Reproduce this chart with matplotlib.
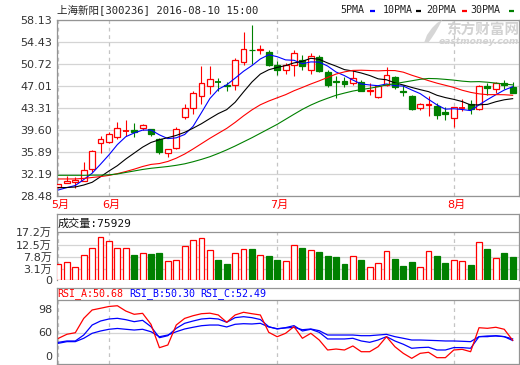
import matplotlib
matplotlib.use('Agg')
import matplotlib.pyplot as plt
import matplotlib.transforms as mtransforms
from matplotlib.patches import Rectangle, Polygon
from matplotlib.lines import Line2D
import numpy as np

plt.rcParams['font.family'] = ['DejaVu Sans', 'Noto Sans CJK SC']

# ---------------- data ----------------
title = '上海新阳[300236] 2016-08-10 15:00'
month_idx = [0, 6, 26, 47]
month_labels = ['5月', '6月', '7月', '8月']

opens = [30.10, 30.80, 30.90, 31.10, 33.10, 37.50, 37.70, 38.40, 39.40, 39.65,
         39.95, 39.80, 38.10, 35.70, 36.60, 41.90, 43.30, 45.40, 47.05, 47.85,
         47.20, 47.20, 51.05, 53.20, 53.10, 52.75, 50.60, 49.80, 50.60, 51.45,
         49.75, 52.00, 49.45, 47.90, 47.90, 47.60, 47.80, 46.30, 45.25, 47.20,
         48.60, 46.20, 45.40, 43.30, 43.85, 43.70, 42.60, 41.60, 43.20, 44.00,
         43.15, 47.00, 46.50, 47.50, 46.95]
highs = [30.60, 31.90, 31.70, 34.30, 36.20, 38.65, 39.35, 40.95, 41.30, 40.80,
         40.70, 39.90, 38.35, 36.50, 40.10, 44.00, 46.20, 50.50, 50.50, 48.35,
         47.70, 51.80, 56.10, 57.30, 54.00, 53.10, 51.20, 51.00, 53.10, 52.30,
         52.65, 52.30, 49.80, 48.75, 48.50, 49.75, 48.00, 47.60, 47.30, 50.30,
         48.80, 47.30, 45.60, 44.20, 45.30, 44.15, 43.50, 43.60, 44.80, 44.70,
         47.30, 47.62, 47.80, 48.10, 47.70]
lows = [30.00, 30.70, 29.85, 31.00, 32.60, 35.70, 37.50, 38.10, 38.60, 38.50,
        39.60, 38.60, 35.55, 35.05, 36.40, 41.45, 42.30, 44.00, 45.70, 46.20,
        46.20, 46.40, 50.60, 50.70, 52.50, 50.50, 48.90, 49.00, 48.75, 49.75,
        49.10, 49.50, 46.90, 45.00, 46.90, 47.20, 46.20, 45.50, 45.10, 47.00,
        46.50, 45.30, 43.00, 43.10, 42.00, 41.45, 41.40, 40.20, 42.90, 42.30,
        43.00, 45.55, 45.80, 46.60, 45.90]
closes = [30.50, 31.05, 31.30, 32.90, 36.10, 38.10, 38.90, 39.94, 39.55, 39.25,
          40.50, 38.95, 35.90, 36.40, 39.90, 43.30, 45.80, 47.50, 48.25, 47.70,
          47.05, 51.40, 53.30, 53.05, 53.30, 50.60, 49.75, 50.60, 52.70, 50.45,
          52.10, 49.60, 47.25, 47.70, 47.40, 48.35, 46.30, 46.45, 47.05, 48.90,
          46.85, 46.00, 43.15, 44.00, 44.05, 42.20, 42.40, 43.50, 43.35, 43.15,
          47.05, 46.80, 47.60, 47.30, 45.95]

ma5 = [29.55, 29.95, 30.30, 31.30, 32.37, 33.89, 35.46, 37.19, 38.52, 39.15,
       39.63, 39.64, 38.83, 38.20, 38.33, 38.89, 40.26, 42.58, 44.95, 46.51,
       47.26, 48.38, 49.54, 50.50, 51.62, 52.33, 52.00, 51.46, 51.39, 50.82,
       51.12, 51.09, 50.42, 49.42, 48.81, 48.06, 47.40, 47.24, 47.11, 47.41,
       47.11, 47.05, 46.39, 45.78, 44.81, 43.88, 43.16, 43.23, 43.10, 42.92,
       43.89, 44.77, 45.59, 46.38, 46.94]
ma10 = [29.93, 29.96, 30.05, 30.38, 30.84, 31.78, 32.74, 33.64, 34.76, 35.76,
        36.76, 37.55, 38.01, 38.36, 38.74, 39.26, 39.95, 40.71, 41.58, 42.42,
        43.08, 44.32, 46.06, 47.73, 49.07, 49.80, 50.19, 50.50, 50.95, 51.22,
        51.73, 51.55, 50.94, 50.41, 49.82, 49.59, 49.25, 48.83, 48.27, 48.11,
        47.59, 47.23, 46.82, 46.45, 46.11, 45.50, 45.11, 44.81, 44.44, 43.87,
        43.89, 43.97, 44.41, 44.74, 44.93]
ma20 = [31.40, 31.40, 31.40, 31.50, 31.65, 31.80, 32.00, 32.30, 32.65, 33.05,
        33.50, 33.85, 34.00, 34.35, 34.90, 35.60, 36.45, 37.35, 38.25, 39.09,
        39.92, 40.93, 42.03, 43.04, 43.90, 44.53, 45.07, 45.60, 46.26, 46.82,
        47.40, 47.93, 48.50, 49.07, 49.44, 49.69, 49.72, 49.67, 49.61, 49.67,
        49.66, 49.39, 48.88, 48.43, 47.96, 47.54, 47.18, 46.82, 46.35, 45.99,
        45.74, 45.60, 45.61, 45.59, 45.50]
ma30 = [32.02, 32.02, 32.02, 32.02, 32.05, 32.05, 32.10, 32.24, 32.50, 32.75,
        33.00, 33.20, 33.35, 33.50, 33.70, 33.95, 34.30, 34.70, 35.15, 35.70,
        36.30, 36.95, 37.65, 38.35, 39.10, 39.85, 40.60, 41.45, 42.30, 43.13,
        43.85, 44.47, 45.00, 45.50, 45.87, 46.21, 46.46, 46.68, 46.93, 47.25,
        47.46, 47.70, 47.94, 48.19, 48.33, 48.29, 48.18, 48.05, 47.88, 47.77,
        47.80, 47.70, 47.55, 47.40, 47.25]

# volume in units of 万 (10k)
volumes = [5.02, 5.79, 3.76, 8.37, 11.06, 15.28, 13.74, 11.06, 11.06, 8.48,
           9.25, 8.87, 9.36, 6.06, 6.45, 11.94, 14.13, 14.90, 10.29, 6.56,
           5.02, 9.25, 10.67, 10.79, 8.48, 8.10, 6.56, 6.06, 12.32, 11.17,
           10.40, 9.63, 8.10, 7.71, 5.02, 8.10, 6.56, 3.76, 5.29, 10.02,
           6.94, 4.26, 5.79, 3.76, 10.02, 8.10, 5.41, 6.45, 6.06, 4.64,
           13.36, 10.79, 7.21, 9.25, 7.59]
last_volume = 75929

rsi_a = [53.3, 58.7, 60.8, 80.0, 91.3, 93.6, 96.0, 97.0, 89.9, 85.5,
         86.8, 72.0, 40.7, 44.3, 71.1, 80.0, 83.6, 86.3, 87.0, 84.6,
         74.8, 84.6, 88.2, 86.3, 84.6, 61.3, 55.4, 60.0, 68.9, 53.3,
         60.0, 51.0, 37.6, 38.9, 37.6, 43.0, 35.3, 35.3, 42.0, 55.4,
         42.0, 33.1, 26.4, 33.1, 34.5, 27.3, 27.3, 37.6, 38.5, 35.3,
         67.5, 66.7, 68.1, 65.4, 50.68]
rsi_b = [47.9, 49.7, 49.7, 57.7, 71.1, 76.5, 79.2, 80.1, 78.3, 75.6,
         77.4, 68.9, 54.1, 56.8, 66.7, 73.4, 76.5, 79.2, 80.1, 79.2,
         74.8, 81.0, 82.3, 81.0, 78.5, 68.9, 65.8, 67.6, 70.3, 63.1,
         65.4, 61.3, 52.4, 52.4, 52.4, 53.3, 49.7, 47.9, 51.0, 55.5,
         49.7, 45.3, 39.9, 40.8, 41.3, 37.6, 37.6, 40.8, 40.8, 39.9,
         55.5, 55.5, 56.8, 55.5, 50.30]
rsi_c = [46.6, 48.8, 48.8, 53.3, 60.0, 63.1, 65.4, 66.5, 65.4, 64.4,
         65.4, 62.1, 55.4, 57.7, 62.1, 65.8, 68.1, 70.2, 71.1, 71.1,
         68.5, 72.1, 72.9, 72.5, 73.4, 68.5, 66.2, 67.2, 68.0, 64.8,
         65.8, 63.5, 57.7, 57.7, 57.7, 57.7, 56.8, 56.8, 57.7, 58.6,
         55.5, 53.3, 51.0, 51.0, 50.6, 50.2, 49.7, 49.7, 49.3, 48.8,
         55.5, 56.4, 56.4, 55.5, 52.49]

price_ticks = [58.13, 54.43, 50.72, 47.01, 43.31, 39.60, 35.89, 32.19, 28.48]
vol_ticks = [-1.2, 3.1, 7.8, 12.5, 17.2]
vol_ticklabels = ['0', '3.1万', '7.8万', '12.5万', '17.2万']
rsi_ticks = [98, 60, 22]
rsi_ticklabels = ['98', '60', '0']

# ---------------- style ----------------
RED = '#ff0000'
GREEN = '#008000'
BLUE = '#0000ff'
BLACK = '#000000'
BORDER = '#949494'
GRID = '#d4d4d4'
DASH = '#c4c4c4'
TXT = '#333333'
MONO = ['DejaVu Sans Mono', 'Noto Sans CJK SC']

W, H = 520, 365
fig = plt.figure(figsize=(W / 100, H / 100), dpi=100)
fig.patch.set_facecolor('white')


def rect(l, t, r, b):
    return [l / W, 1 - b / H, (r - l) / W, (b - t) / H]


def fy(y):
    return 1 - y / H


n = len(closes)
x = np.arange(n)
XLIM = (-0.214, 54.79)
bw = 0.7

ax = fig.add_axes(rect(56.7, 20.3, 519.3, 196.3))
axv = fig.add_axes(rect(56.7, 214.3, 519.3, 280.2))
axr = fig.add_axes(rect(56.7, 287.7, 519.3, 364.3))

for a in (ax, axv, axr):
    a.set_xlim(*XLIM)
    a.set_xticks([])
    for s in a.spines.values():
        s.set_color(BORDER)
        s.set_linewidth(0.9)
    a.tick_params(axis='y', length=0, pad=3.3, labelsize=8, labelcolor=TXT)
    a.set_facecolor('white')

# watermark logo (behind the plot contents)
fig.text(519 / W, fy(30), '东方财富网', family=['Noto Sans CJK SC'], fontsize=10.5,
         fontweight='bold', color='#d2d2d2', ha='right', va='center', zorder=0.5)
fig.text(519 / W, fy(41.5), 'eastmoney.com', family=['DejaVu Sans'], fontsize=6.6,
         fontweight='bold', style='italic', color='#d2d2d2', ha='right', va='center', zorder=0.5)
logo_px = [(424, 43), (427, 35), (432, 28), (437, 23), (442, 20), (439, 26),
           (435, 33), (431, 39), (428, 43)]
fig.add_artist(Polygon([(px / W, fy(py)) for px, py in logo_px], closed=True,
                       facecolor='#d6d6d6', edgecolor='none', zorder=0.5))
ax.patch.set_alpha(0)

# ---------------- price panel ----------------
ax.set_ylim(28.48, 58.13)
ax.set_yticks(price_ticks)
ax.set_yticklabels(['%.2f' % t for t in price_ticks])
for t in price_ticks:
    ax.axhline(t, color=GRID, lw=0.9, zorder=0)
for m in month_idx:
    ax.axvline(m, color=DASH, lw=0.9, ls=(0, (3, 3)), zorder=0)

for i in range(n):
    o, h, l, c = opens[i], highs[i], lows[i], closes[i]
    top, bot = max(o, c), min(o, c)
    if c >= o:
        col = RED
        if top - bot < 0.15:
            ax.vlines(i, l, h, color=col, lw=0.8, zorder=3)
            ax.hlines((top + bot) / 2, i - bw / 2, i + bw / 2, color=col, lw=1.3, zorder=3)
        else:
            ax.vlines(i, top, h, color=col, lw=0.8, zorder=3)
            ax.vlines(i, l, bot, color=col, lw=0.8, zorder=3)
            ax.add_patch(Rectangle((i - bw / 2, bot), bw, top - bot, facecolor='white',
                                   edgecolor=col, lw=0.9, zorder=3))
    else:
        col = GREEN
        ax.vlines(i, l, h, color=col, lw=0.8, zorder=3)
        if top - bot < 0.15:
            ax.hlines((top + bot) / 2, i - bw / 2, i + bw / 2, color=col, lw=1.3, zorder=3)
        else:
            ax.add_patch(Rectangle((i - bw / 2, bot), bw, top - bot, facecolor=col,
                                   edgecolor=col, lw=0.9, zorder=3))

ax.plot(x, ma5, color=BLUE, lw=0.8, zorder=4)
ax.plot(x, ma10, color=BLACK, lw=0.8, zorder=4)
ax.plot(x, ma20, color=RED, lw=0.8, zorder=4)
ax.plot(x, ma30, color=GREEN, lw=0.8, zorder=4)

# title and legend
fig.text(57 / W, fy(10), title, family=MONO, fontsize=7.6, color='#222222',
         ha='left', va='center')
legend_items = [('5PMA', BLUE, 340, 370), ('10PMA', BLACK, 382.5, 416),
                ('20PMA', RED, 426.5, 462), ('30PMA', GREEN, 470, 509)]
for lab, col, tx, dx in legend_items:
    fig.text(tx / W, fy(10), lab, family=MONO, fontsize=7.2, color='#222222',
             ha='left', va='center')
    fig.add_artist(Line2D([dx / W, (dx + 5) / W], [fy(10.5), fy(10.5)],
                          color=col, lw=1.6, solid_capstyle='butt'))

# month labels
trans_m = mtransforms.blended_transform_factory(ax.transData, fig.transFigure)
for m, lab in zip(month_idx, month_labels):
    fig.text(m + 0.25, fy(205), lab, transform=trans_m, color=RED, fontsize=8,
             ha='center', va='center')

# ---------------- volume panel ----------------
VBASE = vol_ticks[0]
axv.set_ylim(VBASE, 24.12)
axv.set_yticks(vol_ticks)
axv.set_yticklabels(vol_ticklabels)
for t in vol_ticks[1:-1]:
    axv.axhline(t, color=GRID, lw=0.9, zorder=0)
axv.axhline(vol_ticks[-1], color=BORDER, lw=0.9, zorder=1)
for m in month_idx:
    axv.vlines(m, VBASE, vol_ticks[-1], color=DASH, lw=0.9, linestyles=(0, (3, 3)), zorder=0)
for i in range(n):
    up = closes[i] >= opens[i]
    if up:
        axv.add_patch(Rectangle((i - bw / 2, VBASE), bw, volumes[i] - VBASE,
                                facecolor='white', edgecolor=RED, lw=0.9, zorder=3))
    else:
        axv.add_patch(Rectangle((i - bw / 2, VBASE), bw, volumes[i] - VBASE,
                                facecolor=GREEN, edgecolor=GREEN, lw=0.9, zorder=3))
axv.spines['bottom'].set_visible(False)
fig.text(57.5 / W, fy(223.5), '成交量:%d' % last_volume, family=MONO, fontsize=8,
         color='#111111', ha='left', va='center')

# ---------------- RSI panel ----------------
axr.set_ylim(18.4, 121.2)
axr.set_yticks(rsi_ticks)
axr.set_yticklabels(rsi_ticklabels)
for lab, va in zip(axr.get_yticklabels(), ['top', 'center', 'bottom']):
    lab.set_va(va)
axr.axhline(60, color=GRID, lw=0.9, zorder=0)
axr.axhline(104.7, color=BORDER, lw=0.9, zorder=1)
for m in month_idx:
    axr.vlines(m, 18.4, 104.7, color=DASH, lw=0.9, linestyles=(0, (3, 3)), zorder=0)
axr.plot(x, rsi_c, color=BLUE, lw=0.9, zorder=3)
axr.plot(x, rsi_b, color=BLUE, lw=0.9, zorder=3)
axr.plot(x, rsi_a, color=RED, lw=0.9, zorder=4)

fig.text(57.5 / W, fy(293.8), 'RSI_A:%.2f' % rsi_a[-1], family=MONO, fontsize=7.2,
         color=RED, ha='left', va='center')
fig.text(129.5 / W, fy(293.8), 'RSI_B:%.2f' % rsi_b[-1], family=MONO, fontsize=7.2,
         color=BLUE, ha='left', va='center')
fig.text(200.5 / W, fy(293.8), 'RSI_C:%.2f' % rsi_c[-1], family=MONO, fontsize=7.2,
         color=BLUE, ha='left', va='center')

fig.savefig('out.png', dpi=100)
